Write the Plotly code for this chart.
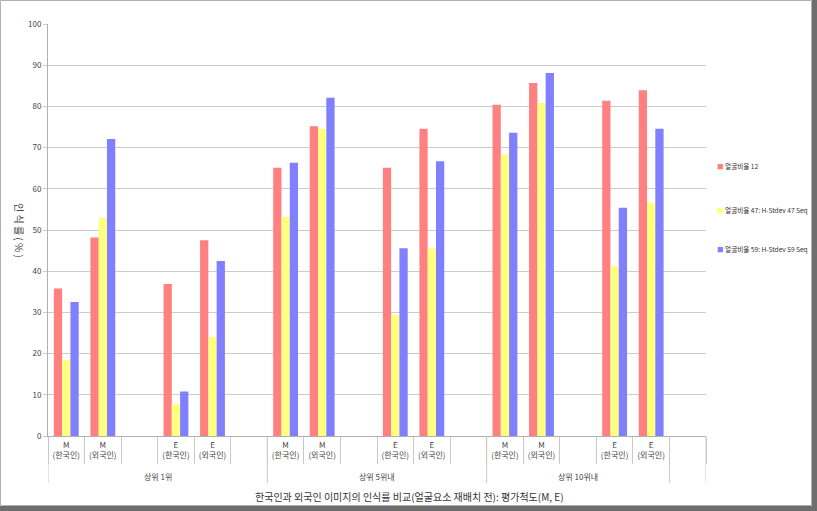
import plotly.graph_objects as go

# ---- data ----
group_names = ["상위 1위", "상위 5위내", "상위 10위내"]
group_sizes = [6, 6, 5]          # number of category slots per group (one trailing blank slot after)
sub_labels = ["M<br>(한국인)", "M<br>(외국인)", "", "E<br>(한국인)", "E<br>(외국인)", ""]
series_names = ["얼굴비율 12", "얼굴비율 47: H-Stdev 47 Seq", "얼굴비율 59: H-Stdev 59 Seq"]
series_colors = ["#FF8080", "#FFFF80", "#8080FF"]
# values in order: M(한국인), M(외국인), E(한국인), E(외국인) per group
red_vals = [35.8, 48.2, 36.9, 47.5, 65.1, 75.2, 65.1, 74.6, 80.4, 85.7, 81.4, 83.9]
yellow_vals = [18.5, 53.0, 7.8, 24.0, 53.2, 74.6, 29.4, 45.6, 68.4, 80.8, 41.2, 56.6]
blue_vals = [32.5, 72.1, 10.8, 42.5, 66.3, 82.1, 45.6, 66.7, 73.6, 88.1, 55.4, 74.6]
y_title = "인 식 률 ( % )"
x_title = "한국인과 외국인 이미지의 인식률 비교(얼굴요소 재배치 전): 평가척도(M, E)"

# ---- build category slots ----
slot_ids, slot_text = [], []
for g in range(3):
    for s, lab in enumerate(sub_labels):
        slot_ids.append(f"g{g}s{s}")
        slot_text.append(lab)
data_slots = [i for i, lab in enumerate(slot_text) if lab]


def expand(vals):
    out = [None] * len(slot_ids)
    for idx, v in zip(data_slots, vals):
        out[idx] = v
    return out


# geometry (px) of the plot area
L, R, T, B = 48, 706, 24, 436
W, H = 817, 511
PW, PH = R - L, B - T


def px_x(px):
    return (px - L) / PW


def px_y(py):
    return (B - py) / PH


font_family = "Noto Sans CJK KR, Noto Sans, sans-serif"

fig = go.Figure()
for name, col, vals in zip(series_names, series_colors, [red_vals, yellow_vals, blue_vals]):
    fig.add_trace(go.Bar(x=slot_ids, y=expand(vals), name=name, marker_color=col,
                         marker_line_width=0, showlegend=False))

shapes = []
annotations = []

# group dividers and group labels
start = 0
bounds = [-0.5]
for gname, size in zip(group_names, group_sizes):
    end = start + size
    bounds.append(end - 0.5)
    annotations.append(dict(x=(start + end - 1) / 2, xref="x", y=px_y(476), yref="paper",
                            text=gname, showarrow=False, font=dict(size=8, color="#444"),
                            xanchor="center", yanchor="middle"))
    start = end
bounds.append(len(slot_ids) - 0.5)
for b in sorted(set(bounds)):
    shapes.append(dict(type="line", xref="x", yref="paper", x0=b, x1=b, y0=0, y1=px_y(483),
                       line=dict(color="#c8c8c8", width=1)))

# legend (manual)
leg_y = [166, 210, 249]
for name, col, ly in zip(series_names, series_colors, leg_y):
    annotations.append(dict(x=px_x(715), xref="paper", y=px_y(ly), yref="paper",
                            text=f"<span style='color:{col}'>■</span> {name}", showarrow=False,
                            xanchor="left", yanchor="middle", font=dict(size=6.6, color="#333")))

# y title (vertical, reading top to bottom)
annotations.append(dict(x=px_x(20), xref="paper", y=px_y(230), yref="paper",
                        text=y_title, textangle=90, showarrow=False, xanchor="center", yanchor="middle",
                        font=dict(size=10, color="#444")))
# x title
annotations.append(dict(x=px_x(409), xref="paper", y=px_y(496), yref="paper",
                        text=x_title, showarrow=False, xanchor="center", yanchor="middle",
                        font=dict(size=10, color="#333")))

# chart frame and shadow
shapes.append(dict(type="rect", xref="paper", yref="paper",
                   x0=px_x(0.5), x1=px_x(811.5), y0=px_y(505.5), y1=px_y(0.5),
                   line=dict(color="#b0b0b0", width=1)))
shapes.append(dict(type="rect", xref="paper", yref="paper",
                   x0=px_x(812), x1=px_x(817), y0=px_y(511), y1=px_y(0),
                   line=dict(width=0), fillcolor="#6e6e6e"))
shapes.append(dict(type="rect", xref="paper", yref="paper",
                   x0=px_x(0), x1=px_x(817), y0=px_y(511), y1=px_y(506),
                   line=dict(width=0), fillcolor="#6e6e6e"))

fig.update_layout(
    width=W, height=H,
    margin=dict(l=L, r=W - R, t=T, b=H - B),
    paper_bgcolor="white", plot_bgcolor="white",
    font=dict(family=font_family, size=8, color="#444"),
    barmode="group", bargap=0.32, bargroupgap=0,
    showlegend=False,
    shapes=shapes, annotations=annotations,
    xaxis=dict(type="category", categoryorder="array", categoryarray=slot_ids,
               tickmode="array", tickvals=slot_ids, ticktext=slot_text,
               tickson="boundaries", ticks="outside", ticklen=27, tickcolor="#c8c8c8",
               ticklabelstandoff=1, showgrid=False, showline=True, linecolor="#b0b0b0",
               tickfont=dict(size=8, color="#444"), range=[-0.5, len(slot_ids) - 0.5]),
    yaxis=dict(range=[0, 100], dtick=10, showgrid=True, gridcolor="#cccccc", gridwidth=1,
               ticks="outside", ticklen=4, tickcolor="#cccccc", showline=True, linecolor="#b0b0b0",
               tickfont=dict(size=8, color="#444"), zeroline=False),
)

fig.write_html("out.html")
